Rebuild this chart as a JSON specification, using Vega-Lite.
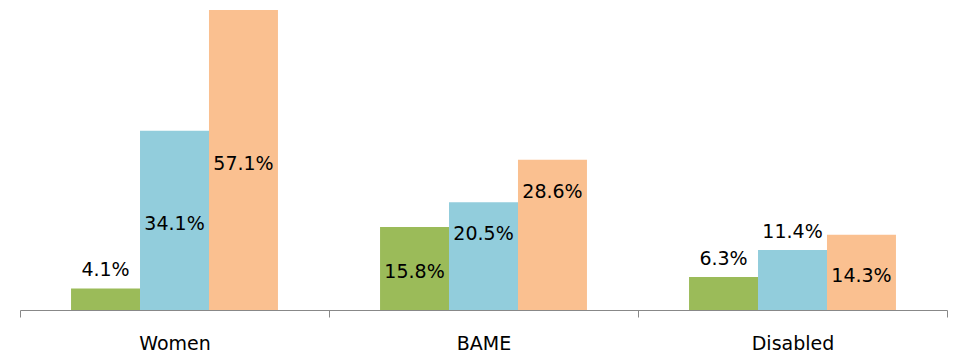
{
  "$schema": "https://vega.github.io/schema/vega-lite/v6.json",
  "width": 927,
  "height": 300,
  "autosize": {"type": "none"},
  "padding": {"left": 20, "top": 10, "right": 12, "bottom": 44},
  "background": "white",
  "config": {"view": {"stroke": null}, "font": "DejaVu Sans"},
  "data": {
    "values": [
      {"group": "Women", "series": "S1", "value": 4.1, "place": "above"},
      {"group": "Women", "series": "S2", "value": 34.1, "place": "center"},
      {"group": "Women", "series": "S3", "value": 57.1, "place": "center"},
      {"group": "BAME", "series": "S1", "value": 15.8, "place": "center"},
      {"group": "BAME", "series": "S2", "value": 20.5, "place": "top"},
      {"group": "BAME", "series": "S3", "value": 28.6, "place": "top"},
      {"group": "Disabled", "series": "S1", "value": 6.3, "place": "above"},
      {"group": "Disabled", "series": "S2", "value": 11.4, "place": "above"},
      {"group": "Disabled", "series": "S3", "value": 14.3, "place": "center"}
    ]
  },
  "transform": [{"calculate": "format(datum.value, '.1f') + '%'", "as": "label"}],
  "encoding": {
    "x": {
      "field": "group", "type": "nominal", "sort": ["Women", "BAME", "Disabled"],
      "scale": {"paddingInner": 0, "paddingOuter": 0},
      "axis": {
        "title": null, "labelAngle": 0, "labelFontSize": 19, "labelColor": "#000000",
        "labelFont": "DejaVu Sans", "labelPadding": 17,
        "domainColor": "#888888", "tickColor": "#888888", "tickBand": "extent",
        "tickSize": 7, "domainWidth": 1
      }
    },
    "xOffset": {"field": "series", "type": "nominal", "scale": {"paddingInner": 0, "paddingOuter": 0.74}}
  },
  "layer": [
    {
      "mark": {"type": "bar"},
      "encoding": {
        "y": {"field": "value", "type": "quantitative", "scale": {"domain": [0, 57.1], "nice": false}, "axis": null},
        "color": {"field": "series", "type": "nominal", "scale": {"domain": ["S1", "S2", "S3"], "range": ["#9BBB59", "#92CDDC", "#FAC090"]}, "legend": null}
      }
    },
    {
      "transform": [{"filter": "datum.place === 'center'"}, {"calculate": "datum.value / 2", "as": "mid"}],
      "mark": {"type": "text", "fontSize": 19, "color": "#000000", "baseline": "middle", "dy": 4},
      "encoding": {
        "y": {"field": "mid", "type": "quantitative", "scale": {"domain": [0, 57.1], "nice": false}},
        "text": {"field": "label", "type": "nominal"}
      }
    },
    {
      "transform": [{"filter": "datum.place === 'top'"}],
      "mark": {"type": "text", "fontSize": 19, "color": "#000000", "baseline": "middle", "dy": 32},
      "encoding": {
        "y": {"field": "value", "type": "quantitative", "scale": {"domain": [0, 57.1], "nice": false}},
        "text": {"field": "label", "type": "nominal"}
      }
    },
    {
      "transform": [{"filter": "datum.place === 'above'"}],
      "mark": {"type": "text", "fontSize": 19, "color": "#000000", "baseline": "middle", "dy": -18},
      "encoding": {
        "y": {"field": "value", "type": "quantitative", "scale": {"domain": [0, 57.1], "nice": false}},
        "text": {"field": "label", "type": "nominal"}
      }
    }
  ]
}
